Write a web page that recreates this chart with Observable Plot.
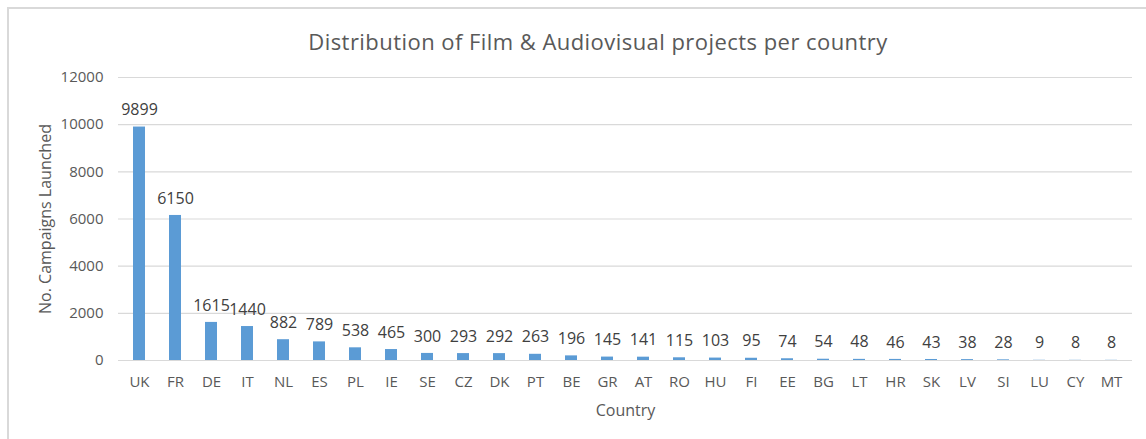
<!DOCTYPE html>
<html>
<head>
<meta charset="utf-8">
<script src="https://cdn.jsdelivr.net/npm/d3@7"></script>
<script src="https://cdn.jsdelivr.net/npm/@observablehq/plot@0.6"></script>
<style>
  body { margin: 0; background: #fff; font-family: "Open Sans", sans-serif; overflow: hidden; }
  #frame { position: absolute; left: 7px; top: 7px; width: 1200px; height: 500px;
           border-top: 2px solid #d9d9d9; border-left: 2px solid #d9d9d9; box-sizing: border-box; }
  #wrap { position: relative; width: 1146px; height: 439px; }
  #title { width: 1146px; height: 60px; box-sizing: border-box; padding-top: 22px; padding-left: 50px;
           line-height: 38px; text-align: center; font-size: 22px; letter-spacing: 0.45px; color: #595959; white-space: nowrap; }
  svg { display: block; }
</style>
</head>
<body>
<div id="frame"></div>
<div id="wrap">
  <div id="title">Distribution of Film &amp; Audiovisual projects per country</div>
  <div id="chart"></div>
</div>
<script>
const countries = ["UK","FR","DE","IT","NL","ES","PL","IE","SE","CZ","DK","PT","BE","GR","AT","RO","HU","FI","EE","BG","LT","HR","SK","LV","SI","LU","CY","MT"];
const campaigns = [9899,6150,1615,1440,882,789,538,465,300,293,292,263,196,145,141,115,103,95,74,54,48,46,43,38,28,9,8,8];
const yTicks = [0,2000,4000,6000,8000,10000,12000];
const xTitle = "Country";
const yTitle = "No. Campaigns Launched";

const data = countries.map((c, i) => ({country: c, value: campaigns[i]}));

const chart = Plot.plot({
  width: 1146,
  height: 379,
  marginTop: 17,
  marginBottom: 79,
  marginLeft: 118,
  marginRight: 14,
  style: {fontFamily: "Open Sans, sans-serif", background: "transparent", overflow: "visible"},
  x: {domain: countries, paddingInner: 0.68, paddingOuter: 0.34, label: null},
  y: {domain: [0, 12000], label: null},
  marks: [
    Plot.ruleY(yTicks, {stroke: "#d9d9d9", strokeWidth: 1.2}),
    Plot.barY(data, {x: "country", y: "value", fill: "#5B9BD5"}),
    Plot.text(data, {x: "country", y: "value", text: d => String(d.value), dy: -17, fill: "#404040", fontSize: 16}),
    Plot.axisY(yTicks, {tickSize: 0, tickPadding: 15, fontSize: 15, color: "#595959", label: null, tickFormat: d => String(d)}),
    Plot.axisX({tickSize: 0, tickPadding: 16, fontSize: 15, color: "#595959", label: null}),
    Plot.text([xTitle], {frameAnchor: "bottom", lineAnchor: "middle", textAnchor: "middle", dy: 50, fontSize: 16, fill: "#595959"}),
    Plot.text([yTitle], {frameAnchor: "left", lineAnchor: "middle", textAnchor: "middle", dx: -73, rotate: -90, fontSize: 16, fill: "#595959"})
  ]
});
document.getElementById("chart").appendChild(chart);
</script>
</body>
</html>
